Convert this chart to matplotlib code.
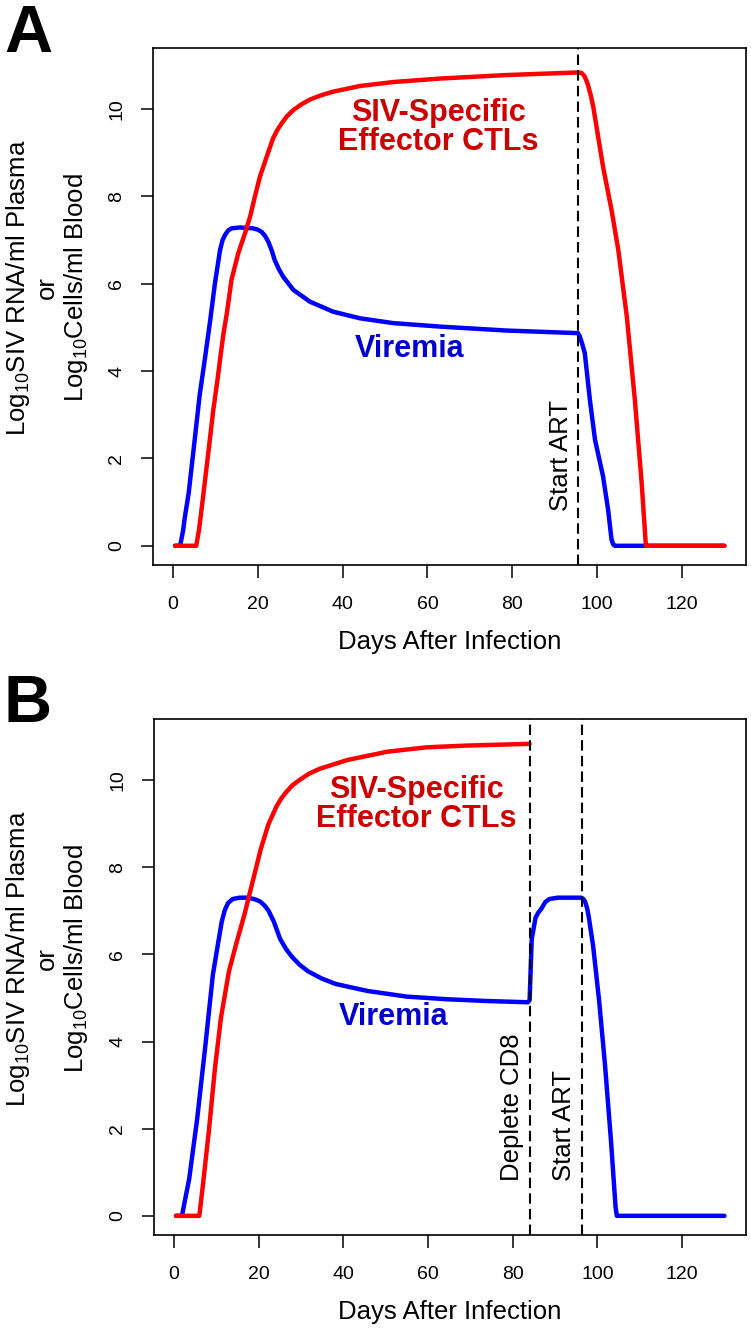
import matplotlib
matplotlib.use("Agg")
import matplotlib.pyplot as plt

plt.rcParams['font.family'] = ['Liberation Sans', 'DejaVu Sans']
plt.rcParams['mathtext.fontset'] = 'custom'
plt.rcParams['mathtext.rm'] = 'Liberation Sans'
plt.rcParams['mathtext.it'] = 'Liberation Sans:italic'
plt.rcParams['mathtext.bf'] = 'Liberation Sans:bold'

# ---------- data ----------
# Panel A: viremia (log10 SIV RNA / ml plasma)
a_vir_day = [0.5, 1.7, 2.4, 2.8, 3.7, 5.1, 6.3, 7.5, 8.7, 9.9, 11.1, 11.7, 12.3, 13.0,
             13.8, 15.8, 18.9, 20.0, 20.9, 21.7, 22.5, 23.3, 24.0, 25.0, 26.0, 28.4,
             32.3, 37.8, 44.1, 51.9, 62.9, 78.5, 95.5, 95.9, 96.5, 97.1, 98.3, 99.5,
             101.4, 102.6, 103.4, 103.8, 104.2, 130.0]
a_vir_val = [0.0, 0.0, 0.35, 0.65, 1.2, 2.4, 3.45, 4.26, 5.10, 6.01, 6.77, 7.0, 7.12, 7.22,
             7.27, 7.29, 7.27, 7.24, 7.19, 7.1, 6.96, 6.76, 6.54, 6.33, 6.16, 5.86,
             5.59, 5.36, 5.21, 5.10, 5.02, 4.93, 4.87, 4.8, 4.62, 4.41, 3.34, 2.43,
             1.59, 0.82, 0.14, 0.03, 0.0, 0.0]

# Panel A: SIV-specific effector CTLs (log10 cells / ml blood)
a_ctl_day = [0.5, 5.5, 6.2, 7.2, 8.3, 9.5, 10.5, 11.1, 11.9, 12.7, 13.8, 15.4, 17.0, 18.2,
             19.3, 20.5, 22.1, 23.6, 24.6, 25.6, 26.9, 28.4, 30.3, 32.3, 35.0, 37.8,
             44.1, 51.9, 62.9, 78.5, 95.5, 96.3, 97.0, 97.7, 98.5, 99.1, 101.4, 103.4,
             105.0, 107.0, 108.9, 110.5, 111.5, 130.0]
a_ctl_val = [0.0, 0.0, 0.4, 1.2, 2.1, 3.1, 3.8, 4.26, 4.85, 5.32, 6.09, 6.70, 7.16, 7.54,
             7.99, 8.45, 8.91, 9.33, 9.52, 9.67, 9.84, 9.98, 10.11, 10.22, 10.32, 10.40,
             10.53, 10.62, 10.70, 10.78, 10.84, 10.83, 10.76, 10.6, 10.32, 10.05, 8.68,
             7.69, 6.77, 5.25, 3.34, 1.44, 0.0, 0.0]

# Panel B: viremia with CD8 depletion
b_vir_day = [0.5, 1.9, 2.6, 3.6, 5.5, 7.4, 9.2, 10.6, 11.3, 12.0, 12.8, 13.9, 15.5, 17.6,
             19.2, 20.4, 21.4, 22.3, 23.6, 25.1, 26.5, 27.9, 29.7, 31.7, 34.8, 38.2,
             45.7, 55.0, 64.4, 73.7, 83.6, 84.0, 84.5, 85.4, 86.0, 86.8, 87.7, 88.7,
             90.6, 96.2, 96.7, 97.1, 97.6, 98.0, 99.0, 100.4, 101.8, 103.2, 104.3, 104.6,
             130.0]
b_vir_val = [0.0, 0.0, 0.35, 0.84, 2.23, 3.88, 5.53, 6.35, 6.75, 7.01, 7.18, 7.27, 7.3, 7.3,
             7.26, 7.21, 7.12, 7.01, 6.75, 6.35, 6.12, 5.94, 5.76, 5.61, 5.45, 5.32,
             5.16, 5.03, 4.97, 4.93, 4.9, 4.95, 6.35, 6.84, 6.95, 7.05, 7.2, 7.27,
             7.3, 7.3, 7.27, 7.21, 7.05, 6.84, 6.19, 4.95, 3.47, 1.74, 0.2, 0.0,
             0.0]

# Panel B: CTLs until depletion
b_ctl_day = [0.5, 6.0, 6.9, 8.3, 9.7, 11.1, 13.0, 14.8, 16.7, 18.6, 20.5, 22.3, 24.2, 25.3,
             26.5, 28.0, 29.8, 32.0, 34.5, 41.0, 50.4, 59.7, 69.1, 84.0]
b_ctl_val = [0.0, 0.0, 0.75, 1.99, 3.39, 4.54, 5.61, 6.27, 6.93, 7.67, 8.41, 8.98, 9.39,
             9.57, 9.72, 9.88, 10.01, 10.15, 10.26, 10.46, 10.65, 10.75, 10.79, 10.83]

art_day_a = 95.5
art_day_b = 96.3
cd8_day_b = 84.0

x_ticks = [0, 20, 40, 60, 80, 100, 120]
y_ticks = [0, 2, 4, 6, 8, 10]

ylab = "Log$_{10}$SIV RNA/ml Plasma\nor\nLog$_{10}$Cells/ml Blood"


def setup(ax):
    ax.set_xlim(-4.7, 135.1)
    ax.set_ylim(-0.44, 11.4)
    ax.set_xticks(x_ticks)
    ax.set_yticks(y_ticks)
    ax.tick_params(direction='out', length=9, width=1.1, labelsize=14, colors='black')
    ax.tick_params(axis='x', pad=13.5)
    ax.tick_params(axis='y', pad=11, labelrotation=90)
    for lab in ax.get_yticklabels():
        lab.set_va('center')
    for sp in ax.spines.values():
        sp.set_linewidth(1.2)
    ax.set_xlabel("Days After Infection", fontsize=18.5, labelpad=12)


def curves(ax, vd, vv, cd, cv):
    ax.plot(vd, vv, color='#0000ff', lw=3.2, solid_capstyle='round',
            solid_joinstyle='round', zorder=2)
    ax.plot(cd, cv, color='#ff0000', lw=3.2, solid_capstyle='round',
            solid_joinstyle='round', zorder=2.5)


def vline(ax, d, label):
    ax.axvline(d, color='black', lw=1.5, ls=(0, (5, 2.5)), zorder=3)
    ax.text(d - 4.1, 0.8, label, rotation=90, ha='center', va='bottom', fontsize=18.5)


fig = plt.figure(figsize=(7.51, 13.30), dpi=100)

# ---------- panel A ----------
axA = fig.add_axes([153 / 751, 1 - 565 / 1330, 593 / 751, 517 / 1330])
setup(axA)
curves(axA, a_vir_day, a_vir_val, a_ctl_day, a_ctl_val)
vline(axA, art_day_a, "Start ART")
axA.text(62.6, 9.58, "SIV-Specific\nEffector CTLs", color='#cc0000', fontsize=22,
         fontweight='bold', ha='center', va='center', linespacing=0.95)
axA.text(55.7, 4.51, "Viremia", color='#0000cc', fontsize=22, fontweight='bold',
         ha='center', va='center')

# ---------- panel B ----------
axB = fig.add_axes([154 / 751, 1 - 1235 / 1330, 592 / 751, 516 / 1330])
setup(axB)
curves(axB, b_vir_day, b_vir_val, b_ctl_day, b_ctl_val)
vline(axB, cd8_day_b, "Deplete CD8")
vline(axB, art_day_b, "Start ART")
axB.text(57.3, 9.44, "SIV-Specific\nEffector CTLs", color='#cc0000', fontsize=22,
         fontweight='bold', ha='center', va='center', linespacing=0.95)
axB.text(51.9, 4.56, "Viremia", color='#0000cc', fontsize=22, fontweight='bold',
         ha='center', va='center')

# y labels and panel letters
fig.text(47 / 751, 1 - 288 / 1330, ylab, rotation=90, ha='center', va='center',
         multialignment='center', fontsize=18.5, linespacing=1.15)
fig.text(47 / 751, 1 - 959 / 1330, ylab, rotation=90, ha='center', va='center',
         multialignment='center', fontsize=18.5, linespacing=1.15)
fig.text(4 / 751, 1 - 4 / 1330, "A", fontsize=48, fontweight='bold', ha='left', va='top')
fig.text(4 / 751, 1 - 674 / 1330, "B", fontsize=48, fontweight='bold', ha='left', va='top')

fig.savefig("out.png", dpi=100)
